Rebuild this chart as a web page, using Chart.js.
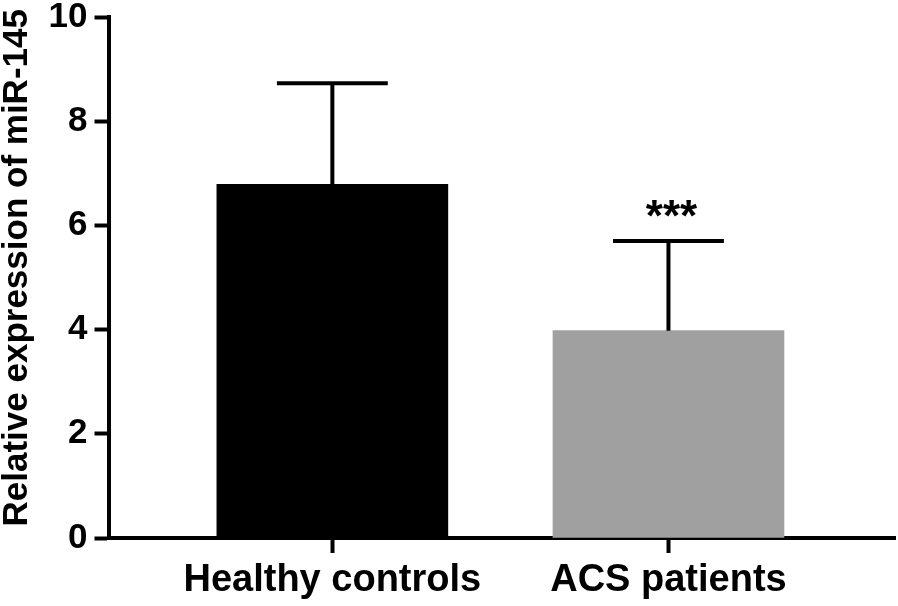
<!DOCTYPE html>
<html>
<head>
<meta charset="utf-8">
<script src="https://cdn.jsdelivr.net/npm/chart.js@4"></script>
<style>
  html, body { margin: 0; padding: 0; background: #fff; }
  #wrap { width: 898px; height: 606px; }
</style>
</head>
<body>
<div id="wrap"><canvas id="chart"></canvas></div>
<script>
// values
var groups = ['Healthy controls', 'ACS patients'];
var means = [6.79, 3.98];
var sdUp = [1.94, 1.72];
var stars = ['', '***'];
var yTicks = [0, 2, 4, 6, 8, 10];
var barColors = ['#000000', '#a0a0a0'];

var FONT = "'Liberation Sans', Arial, sans-serif";

// error bars + significance marks, placed with the chart's own scales
var errorBars = {
    id: 'errorBars',
    afterDatasetsDraw: function(chart) {
        var ctx = chart.ctx;
        var xs = chart.scales.x, ys = chart.scales.y;
        var meta = chart.getDatasetMeta(0);
        ctx.save();
        ctx.strokeStyle = '#000';
        ctx.lineWidth = 4;
        ctx.lineCap = 'butt';
        for (var i = 0; i < means.length; i++) {
            var x = xs.getPixelForValue(i + 1);
            var yb = ys.getPixelForValue(means[i]);
            var yt = ys.getPixelForValue(means[i] + sdUp[i]);
            var half = meta.data[i].width * 0.24;
            ctx.beginPath();
            ctx.moveTo(x, yb);
            ctx.lineTo(x, yt);
            ctx.moveTo(x - half, yt);
            ctx.lineTo(x + half, yt);
            ctx.stroke();
            if (stars[i]) {
                ctx.fillStyle = '#000';
                ctx.font = 'bold 44px ' + FONT;
                ctx.textAlign = 'center';
                ctx.textBaseline = 'alphabetic';
                ctx.fillText(stars[i], x + 3, yt - 10);
            }
        }
        ctx.restore();
    }
};

new Chart(document.getElementById('chart').getContext('2d'), {
    type: 'bar',
    data: {
        datasets: [{
            data: means.map(function(v, i) { return {x: i + 1, y: v}; }),
            backgroundColor: barColors,
            borderWidth: 0,
            barThickness: 231
        }]
    },
    options: {
        responsive: true,
        maintainAspectRatio: false,
        animation: false,
        layout: { padding: { top: 0, right: 3, bottom: 0, left: 0 } },
        plugins: {
            legend: { display: false },
            tooltip: { enabled: false }
        },
        scales: {
            x: {
                type: 'linear',
                min: 0.334,
                max: 2.674,
                offset: false,
                z: 1,
                afterBuildTicks: function(axis) {
                    axis.ticks = groups.map(function(g, i) { return {value: i + 1}; });
                },
                afterFit: function(axis) { axis.height = 68; },
                border: { display: true, color: '#000', width: 4 },
                grid: {
                    offset: false,
                    drawOnChartArea: false,
                    drawTicks: true,
                    tickLength: 15,
                    tickWidth: 4,
                    tickColor: '#000'
                },
                ticks: {
                    autoSkip: false,
                    maxRotation: 0,
                    padding: 9,
                    color: '#000',
                    font: { family: FONT, size: 38, weight: 'bold', lineHeight: 1 },
                    callback: function(v) { return groups[v - 1]; }
                }
            },
            y: {
                min: 0,
                max: 10,
                z: 1,
                afterBuildTicks: function(axis) {
                    axis.ticks = yTicks.map(function(v) { return {value: v}; });
                },
                afterFit: function(axis) {
                    axis.width = 108.5;
                    axis.paddingTop = 17;
                },
                border: { display: true, color: '#000', width: 4 },
                grid: {
                    drawOnChartArea: false,
                    drawTicks: true,
                    tickLength: 14,
                    tickWidth: 4,
                    tickColor: '#000'
                },
                ticks: {
                    padding: 7,
                    color: '#000',
                    font: { family: FONT, size: 35, weight: 'bold', lineHeight: 1 }
                },
                title: {
                    display: true,
                    text: '  Relative expression of miR-145',
                    color: '#000',
                    padding: { top: 0, bottom: 0 },
                    font: { family: FONT, size: 35, weight: 'bold', lineHeight: 1 }
                }
            }
        }
    },
    plugins: [errorBars]
});
</script>
</body>
</html>
